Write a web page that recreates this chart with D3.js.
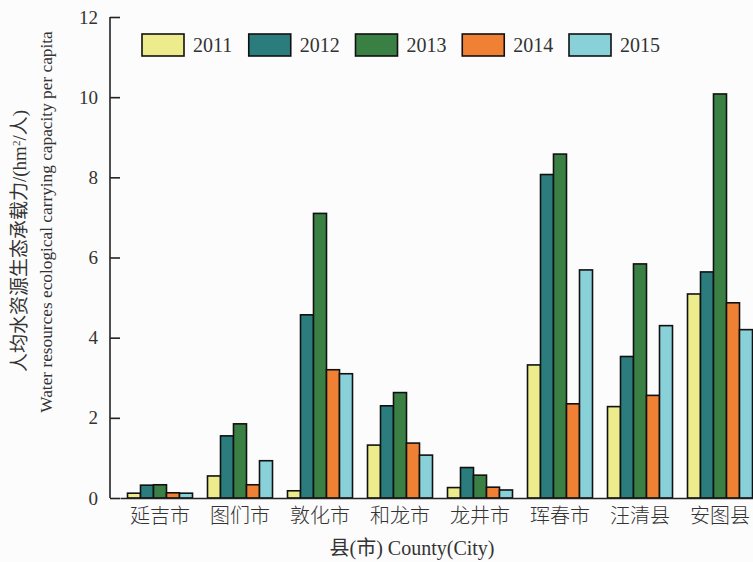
<!DOCTYPE html>
<html>
<head>
<meta charset="utf-8">
<script src="https://cdn.jsdelivr.net/npm/d3@7"></script>
<style>
  body { margin: 0; background: #fcfcfc; }
  svg { display: block; }
</style>
</head>
<body>
<div id="wrapper"></div>
<script>
// data
const counties = ['延吉市', '图们市', '敦化市', '和龙市', '龙井市', '珲春市', '汪清县', '安图县']
const years = ['2011', '2012', '2013', '2014', '2015']
const v2011 = [0.12, 0.55, 0.18, 1.32, 0.26, 3.32, 2.28, 5.09]
const v2012 = [0.32, 1.55, 4.57, 2.30, 0.76, 8.07, 3.53, 5.64]
const v2013 = [0.33, 1.85, 7.10, 2.63, 0.57, 8.58, 5.84, 10.08]
const v2014 = [0.13, 0.33, 3.20, 1.37, 0.27, 2.35, 2.56, 4.87]
const v2015 = [0.12, 0.93, 3.10, 1.07, 0.20, 5.69, 4.30, 4.20]
const yTicks = [0, 2, 4, 6, 8, 10, 12]
const colors = ['#ecec8c', '#2a7d7c', '#3a7f43', '#f08033', '#89d1d9']

const series = [v2011, v2012, v2013, v2014, v2015]
const dataset = counties.map((c, i) => ({
  county: c,
  values: years.map((y, j) => ({ year: y, value: series[j][i] }))
}))

const serif = '"Liberation Serif", "DejaVu Serif", "Noto Sans CJK SC", serif'
const cjk = '"Noto Sans CJK SC", sans-serif'

let dimensions = {
  width: 753,
  height: 562,
  margins: { top: 17, right: -7, left: 110, bottom: 64 }
}
dimensions.boundedWidth = dimensions.width - dimensions.margins.left - dimensions.margins.right
dimensions.boundedHeight = dimensions.height - dimensions.margins.top - dimensions.margins.bottom

const wrapper = d3.select('#wrapper').append('svg')
  .attr('width', dimensions.width)
  .attr('height', dimensions.height)
  .style('background', '#fcfcfc')

const bounds = wrapper.append('g')
  .attr('transform', `translate(${dimensions.margins.left},${dimensions.margins.top})`)

// scales
const xScale = d3.scaleBand()
  .domain(counties)
  .range([10, 650])
  .paddingInner(0.1875)
  .paddingOuter(0.09375)

const xInner = d3.scaleBand()
  .domain(years)
  .range([0, xScale.bandwidth()])

const yScale = d3.scaleLinear()
  .domain([0, 12])
  .range([dimensions.boundedHeight, 0])

const colorScale = d3.scaleOrdinal().domain(years).range(colors)

// bars
const groups = bounds.selectAll('g.group')
  .data(dataset)
  .enter().append('g')
  .attr('class', 'group')
  .attr('transform', d => `translate(${xScale(d.county)},0)`)

groups.selectAll('rect')
  .data(d => d.values)
  .enter().append('rect')
  .attr('x', d => xInner(d.year))
  .attr('y', d => yScale(d.value))
  .attr('width', xInner.bandwidth())
  .attr('height', d => yScale(0) - yScale(d.value))
  .attr('fill', d => colorScale(d.year))
  .attr('stroke', '#111')
  .attr('stroke-width', 1.6)

// y axis
const yAxisGenerator = d3.axisRight(yScale)
  .tickValues(yTicks)
  .tickSize(10)
  .tickFormat(d3.format('d'))

const yAxis = bounds.append('g').call(yAxisGenerator)
yAxis.select('.domain').attr('stroke', '#222').attr('stroke-width', 1.6)
  .attr('d', `M0,${yScale(12)}V${yScale(0)}`)
yAxis.selectAll('.tick line').attr('stroke', '#222').attr('stroke-width', 1.6)
yAxis.selectAll('.tick text')
  .attr('x', -12)
  .attr('text-anchor', 'end')
  .attr('fill', '#333')
  .style('font-family', serif)
  .style('font-size', '19px')

// x axis
const xAxisGenerator = d3.axisBottom(xScale).tickSize(0).tickPadding(11)
const xAxis = bounds.append('g')
  .attr('transform', `translate(0,${dimensions.boundedHeight})`)
  .call(xAxisGenerator)
xAxis.select('.domain').attr('stroke', '#222').attr('stroke-width', 1.6)
xAxis.selectAll('.tick text')
  .attr('fill', '#333')
  .style('font-family', cjk)
  .style('font-size', '20px')
  .style('font-weight', 300)

// axis titles
wrapper.append('text')
  .attr('x', 412)
  .attr('y', 555)
  .attr('text-anchor', 'middle')
  .attr('fill', '#333')
  .style('font-family', serif)
  .style('font-size', '20px')
  .text('县(市) County(City)')

const yLabel1 = wrapper.append('text')
  .attr('transform', 'translate(26,241) rotate(-90)')
  .attr('text-anchor', 'middle')
  .attr('fill', '#333')
  .style('font-family', serif)
  .style('font-size', '19px')
yLabel1.append('tspan').text('人均水资源生态承载力/(hm')
yLabel1.append('tspan').attr('dy', -6).style('font-size', '11px').text('2')
yLabel1.append('tspan').attr('dy', 6).text('/人)')

wrapper.append('text')
  .attr('transform', 'translate(52,222) rotate(-90)')
  .attr('text-anchor', 'middle')
  .attr('fill', '#333')
  .style('font-family', serif)
  .style('font-size', '17.3px')
  .text('Water resources ecological carrying capacity per capita')

// legend
const legend = wrapper.append('g')
  .attr('transform', 'translate(142,34)')

const legendItems = legend.selectAll('g')
  .data(years)
  .enter().append('g')
  .attr('transform', (d, i) => `translate(${i * 106.75},0)`)

legendItems.append('rect')
  .attr('width', 42)
  .attr('height', 22)
  .attr('fill', d => colorScale(d))
  .attr('stroke', '#111')
  .attr('stroke-width', 1.6)

legendItems.append('text')
  .attr('x', 51)
  .attr('y', 18)
  .attr('fill', '#333')
  .style('font-family', serif)
  .style('font-size', '20px')
  .text(d => d)
</script>
</body>
</html>
